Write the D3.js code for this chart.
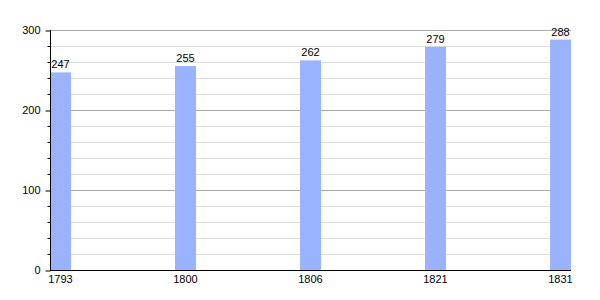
<!DOCTYPE html>
<html>
<head>
<meta charset="utf-8">
<script src="https://cdn.jsdelivr.net/npm/d3@7"></script>
<style>
  body { margin: 0; background: #fff; }
  text { font-family: "Liberation Sans", Arial, sans-serif; font-size: 11px; fill: #000; }
</style>
</head>
<body>
<div id="chart"></div>
<script>
const years = ['1793', '1800', '1806', '1821', '1831'];
const population = [247, 255, 262, 279, 288];
const majorTicks = [0, 100, 200, 300];
const minorTicks = [20, 40, 60, 80, 120, 140, 160, 180, 220, 240, 260, 280];

const width = 600, height = 300;
const plotLeft = 50, plotRight = 571, plotTop = 30, plotBottom = 270;
const barWidth = 21;

const svg = d3.select("#chart")
    .append("svg")
    .attr("width", width)
    .attr("height", height);

const x = d3.scalePoint()
    .domain(years)
    .range([plotLeft, plotRight - barWidth]);

const y = d3.scaleLinear()
    .domain([0, 300])
    .range([plotBottom, plotTop]);

// minor grid
svg.selectAll(".minor")
    .data(minorTicks)
    .enter()
    .append("line")
    .attr("x1", plotLeft)
    .attr("x2", plotRight)
    .attr("y1", d => y(d) + 0.5)
    .attr("y2", d => y(d) + 0.5)
    .style("stroke", "#dddddd");

// major grid
svg.selectAll(".major")
    .data(majorTicks.filter(d => d > 0))
    .enter()
    .append("line")
    .attr("x1", plotLeft)
    .attr("x2", plotRight)
    .attr("y1", d => y(d) + 0.5)
    .attr("y2", d => y(d) + 0.5)
    .style("stroke", "#aaaaaa");

// bars
svg.selectAll(".bar")
    .data(population)
    .enter()
    .append("rect")
    .attr("x", (d, i) => x(years[i]))
    .attr("y", d => y(d))
    .attr("width", barWidth)
    .attr("height", d => plotBottom - y(d))
    .style("fill", "#99b3ff");

// value labels
svg.selectAll(".val")
    .data(population)
    .enter()
    .append("text")
    .attr("x", (d, i) => x(years[i]) + barWidth / 2)
    .attr("y", d => y(d) - 4)
    .attr("text-anchor", "middle")
    .text(d => d);

// y axis
const yAxis = svg.append("g").attr("transform", `translate(${plotLeft + 0.5},0)`);
yAxis.call(d3.axisLeft(y).tickValues(majorTicks).tickSize(5).tickPadding(5).tickFormat(d3.format("d")));
yAxis.selectAll(".tick line").attr("transform", "translate(0,0.5)");
yAxis.select(".domain").attr("d", `M0,${plotTop}V${plotBottom + 0.5}`);
yAxis.selectAll("text").style("font-size", "11px").style("font-family", "Liberation Sans, Arial, sans-serif");
yAxis.selectAll(".minortick")
    .data(minorTicks)
    .enter()
    .append("line")
    .attr("x1", -3)
    .attr("x2", 0)
    .attr("y1", d => y(d) + 0.5)
    .attr("y2", d => y(d) + 0.5)
    .style("stroke", "#000");

// x axis line
svg.append("line")
    .attr("x1", plotLeft)
    .attr("x2", plotRight)
    .attr("y1", plotBottom + 0.5)
    .attr("y2", plotBottom + 0.5)
    .style("stroke", "#000");

// year labels
svg.selectAll(".year")
    .data(years)
    .enter()
    .append("text")
    .attr("x", d => x(d) + barWidth / 2)
    .attr("y", plotBottom + 13)
    .attr("text-anchor", "middle")
    .text(d => d);
</script>
</body>
</html>
